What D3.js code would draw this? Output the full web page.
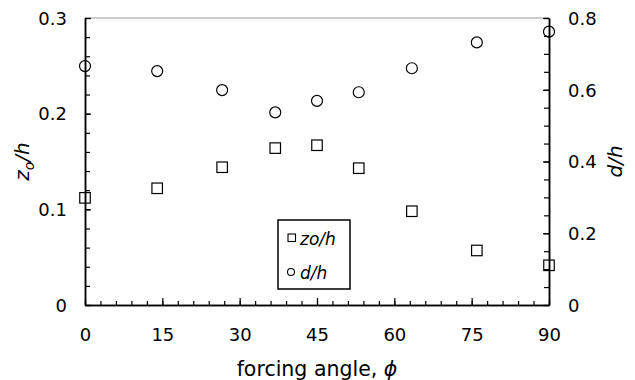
<!DOCTYPE html>
<html>
<head>
<meta charset="utf-8">
<script src="https://cdn.jsdelivr.net/npm/d3@7"></script>
<style>
body { margin: 0; background: #fff; }
svg text { font-family: "DejaVu Sans", Verdana, sans-serif; fill: #000; }
</style>
</head>
<body>
<svg id="chart" width="635" height="380"></svg>
<script>
// forcing angles (deg)
var angles = [0, 14, 26.6, 36.9, 45, 53.1, 63.4, 76, 90];
// zo/h, left axis
var zoH = [0.112, 0.122, 0.144, 0.164, 0.167, 0.143, 0.098, 0.057, 0.0415];
// d/h, right axis
var dH = [0.666, 0.652, 0.599, 0.537, 0.569, 0.593, 0.660, 0.732, 0.762];

var xTicks = [0, 15, 30, 45, 60, 75, 90];
var yLeftTicks = [0, 0.1, 0.2, 0.3];
var yRightTicks = [0, 0.2, 0.4, 0.6, 0.8];

var margin = { left: 85, right: 86, top: 18, bottom: 75 };
var width = 635 - margin.left - margin.right;
var height = 380 - margin.top - margin.bottom;

var svg = d3.select('#chart');
var g = svg.append('g').attr('transform', 'translate(' + margin.left + ',' + margin.top + ')');

var x = d3.scaleLinear().domain([0, 90]).range([0, width]);
var yL = d3.scaleLinear().domain([0, 0.3]).range([height, 0]);
var yR = d3.scaleLinear().domain([0, 0.8]).range([height, 0]);

// top border
g.append('line')
    .attr('x1', 0).attr('x2', width)
    .attr('y1', 0).attr('y2', 0)
    .attr('stroke', '#999').attr('stroke-width', 1.2);

function styleAxis(sel) {
    sel.select('.domain').attr('stroke', '#000').attr('stroke-width', 1.5);
    sel.selectAll('.tick line').attr('stroke', '#000').attr('stroke-width', 1.2);
    sel.selectAll('text').attr('font-size', '18px');
}

// minor ticks first, then major ticks with labels
g.append('g')
    .attr('transform', 'translate(0,' + height + ')')
    .call(d3.axisTop(x).tickValues(d3.range(0, 91, 3)).tickSize(4).tickFormat('').tickSizeOuter(0))
    .call(styleAxis);
var xAxis = g.append('g')
    .attr('transform', 'translate(0,' + height + ')')
    .call(d3.axisTop(x).tickValues(xTicks).tickSize(7).tickSizeOuter(0).tickFormat(d3.format('d')))
    .call(styleAxis);
xAxis.selectAll('text').attr('y', 36).attr('dy', 0);

g.append('g')
    .call(d3.axisRight(yL).tickValues(d3.range(0, 0.301, 0.02)).tickSize(5).tickFormat('').tickSizeOuter(0))
    .call(styleAxis);
var yAxisL = g.append('g')
    .call(d3.axisRight(yL).tickValues(yLeftTicks).tickSize(6).tickSizeOuter(0)
        .tickFormat(function(d) { return d === 0 ? '0' : d3.format('.1f')(d); }))
    .call(styleAxis);
yAxisL.selectAll('text').attr('x', -18).attr('text-anchor', 'end').attr('dy', '0.35em');

g.append('g')
    .attr('transform', 'translate(' + width + ',0)')
    .call(d3.axisLeft(yR).tickValues(d3.range(0, 0.801, 0.05)).tickSize(5).tickFormat('').tickSizeOuter(0))
    .call(styleAxis);
var yAxisR = g.append('g')
    .attr('transform', 'translate(' + width + ',0)')
    .call(d3.axisLeft(yR).tickValues(yRightTicks).tickSize(6).tickSizeOuter(0)
        .tickFormat(function(d) { return d === 0 ? '0' : d3.format('.1f')(d); }))
    .call(styleAxis);
yAxisR.selectAll('text').attr('x', 19).attr('text-anchor', 'start').attr('dy', '0.35em');

// data: squares for zo/h
var sq = 10.5;
g.append('g').selectAll('rect')
    .data(angles)
    .enter()
    .append('rect')
    .attr('x', function(d) { return x(d) - sq / 2; })
    .attr('y', function(d, i) { return yL(zoH[i]) - sq / 2; })
    .attr('width', sq).attr('height', sq)
    .attr('fill', 'none').attr('stroke', '#000').attr('stroke-width', 1.2);

// circles for d/h
g.append('g').selectAll('circle')
    .data(angles)
    .enter()
    .append('circle')
    .attr('cx', function(d) { return x(d); })
    .attr('cy', function(d, i) { return yR(dH[i]); })
    .attr('r', 5.5)
    .attr('fill', 'none').attr('stroke', '#000').attr('stroke-width', 1.2);

// legend
var lg = svg.append('g').attr('transform', 'translate(278,220)');
lg.append('rect').attr('width', 72).attr('height', 69)
    .attr('fill', '#fff').attr('stroke', '#000').attr('stroke-width', 1.5);
lg.append('rect').attr('x', 10).attr('y', 14).attr('width', 7.5).attr('height', 7.5)
    .attr('fill', 'none').attr('stroke', '#000').attr('stroke-width', 1.1);
lg.append('text').attr('x', 22).attr('y', 25).attr('font-size', '17px')
    .attr('font-style', 'italic').text('zo/h');
lg.append('circle').attr('cx', 13).attr('cy', 52).attr('r', 3.5)
    .attr('fill', 'none').attr('stroke', '#000').attr('stroke-width', 1.1);
lg.append('text').attr('x', 22).attr('y', 59).attr('font-size', '17px')
    .attr('font-style', 'italic').text('d/h');

// axis titles
svg.append('text')
    .attr('x', margin.left + width / 2).attr('y', 376)
    .attr('text-anchor', 'middle').attr('font-size', '20.5px')
    .html('forcing angle, <tspan font-style="italic">ϕ</tspan>');

var lt = svg.append('text')
    .attr('transform', 'translate(29,' + (margin.top + height / 2) + ') rotate(-90)')
    .attr('text-anchor', 'middle').attr('font-size', '20px').attr('font-style', 'italic');
lt.append('tspan').text('z');
lt.append('tspan').attr('font-size', '14px').attr('dy', 5).text('o');
lt.append('tspan').attr('dy', -5).text('/h');

svg.append('text')
    .attr('transform', 'translate(622,' + (margin.top + height / 2) + ') rotate(-90)')
    .attr('text-anchor', 'middle').attr('font-size', '20px').attr('font-style', 'italic')
    .text('d/h');
</script>
</body>
</html>
